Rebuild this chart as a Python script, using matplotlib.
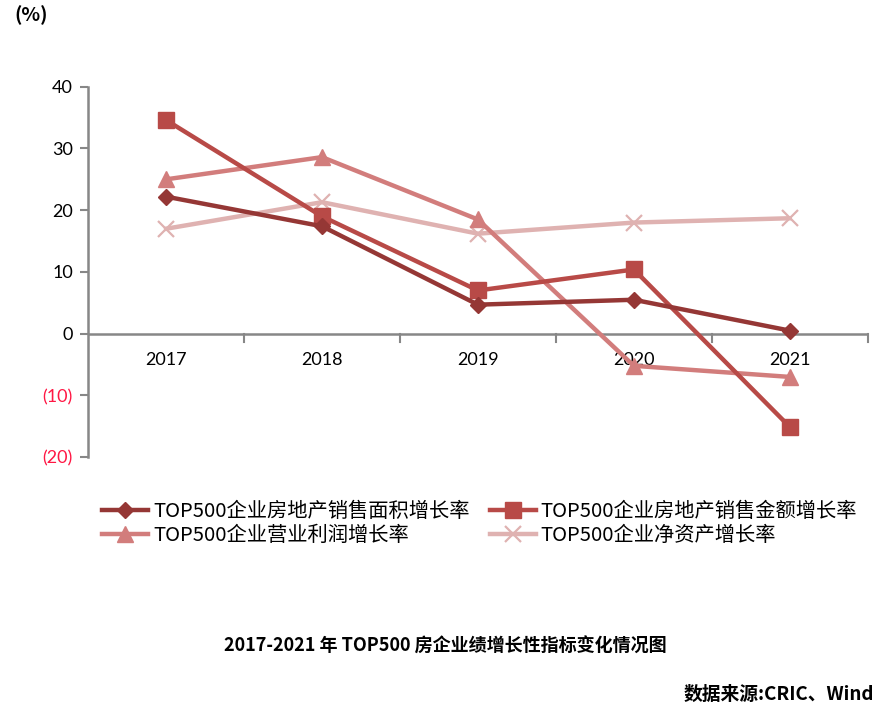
import matplotlib.pyplot as plt
from matplotlib.lines import Line2D

plt.rcParams['font.family'] = ['Noto Sans CJK SC', 'DejaVu Sans']

years = ['2017', '2018', '2019', '2020', '2021']
area = [22.2, 17.4, 4.7, 5.5, 0.5]
amount = [34.6, 19.0, 7.0, 10.4, -15.1]
profit = [25.0, 28.6, 18.5, -5.2, -7.0]
equity = [17.0, 21.3, 16.2, 18.0, 18.7]

labels = ['TOP500企业房地产销售面积增长率', 'TOP500企业房地产销售金额增长率',
          'TOP500企业营业利润增长率', 'TOP500企业净资产增长率']
yticks = [40, 30, 20, 10, 0, -10, -20]
ytick_labels = ['40', '30', '20', '10', '0', '(10)', '(20)']

c_area = '#953735'
c_amount = '#B84A47'
c_profit = '#D27D7C'
c_equity = '#DFB2B1'
grey = '#878787'

fig = plt.figure(figsize=(8.9, 7.11), dpi=100)
ax = fig.add_axes([0.099, 0.357, 0.876, 0.521])

x = list(range(len(years)))
ax.plot(x, equity, color=c_equity, lw=3.2, marker='x', ms=11, mew=1.6, zorder=3)
ax.plot(x, profit, color=c_profit, lw=3.2, marker='^', ms=11, zorder=4)
ax.plot(x, amount, color=c_amount, lw=3.2, marker='s', ms=11, zorder=5)
ax.plot(x, area, color=c_area, lw=3.2, marker='D', ms=8, zorder=6)

ax.set_xlim(-0.5, 4.5)
ax.set_ylim(-20, 40)
ax.set_xticks([])
ax.set_yticks(yticks)
ax.set_yticklabels(ytick_labels, fontsize=13, family=['Lato', 'DejaVu Sans'])
for t, v in zip(ax.get_yticklabels(), yticks):
    t.set_color('#FF1744' if v < 0 else 'black')
ax.tick_params(axis='y', length=6, width=1.5, color=grey, pad=5)

for s in ['top', 'right', 'bottom']:
    ax.spines[s].set_visible(False)
ax.spines['left'].set_color(grey)
ax.spines['left'].set_linewidth(1.8)

# category axis at zero
ax.axhline(0, color=grey, lw=1.8, zorder=2)
for b in [0.5, 1.5, 2.5, 3.5, 4.5]:
    ax.plot([b, b], [0, -1.3], color=grey, lw=1.5, zorder=2, clip_on=False)
for i, yr in enumerate(years):
    ax.text(i, -4.2, yr, ha='center', va='center', fontsize=13,
            family=['Lato', 'DejaVu Sans'])

h_area = Line2D([], [], color=c_area, lw=3.2, marker='D', ms=8)
h_amount = Line2D([], [], color=c_amount, lw=3.2, marker='s', ms=11)
h_profit = Line2D([], [], color=c_profit, lw=3.2, marker='^', ms=11)
h_equity = Line2D([], [], color=c_equity, lw=3.2, marker='x', ms=11, mew=1.6)
# column-wise fill -> rows: area/amount, profit/equity
fig.legend([h_area, h_profit, h_amount, h_equity],
           [labels[0], labels[2], labels[1], labels[3]],
           loc='upper left', bbox_to_anchor=(0.106, 0.307),
           ncol=2, frameon=False, fontsize=14.6, handlelength=2.25,
           handletextpad=0.25, columnspacing=1.0, labelspacing=0.18,
           borderaxespad=0)

fig.text(0.016, 0.978, '(%)', fontsize=14, fontweight='bold', va='center')
fig.text(0.5, 0.091, '2017-2021 年 TOP500 房企业绩增长性指标变化情况图',
         ha='center', va='center', fontsize=13, fontweight='bold')
fig.text(0.982, 0.024, '数据来源:CRIC、Wind', ha='right', va='center',
         fontsize=13.5, fontweight='bold')

fig.savefig('out.png', dpi=100)
